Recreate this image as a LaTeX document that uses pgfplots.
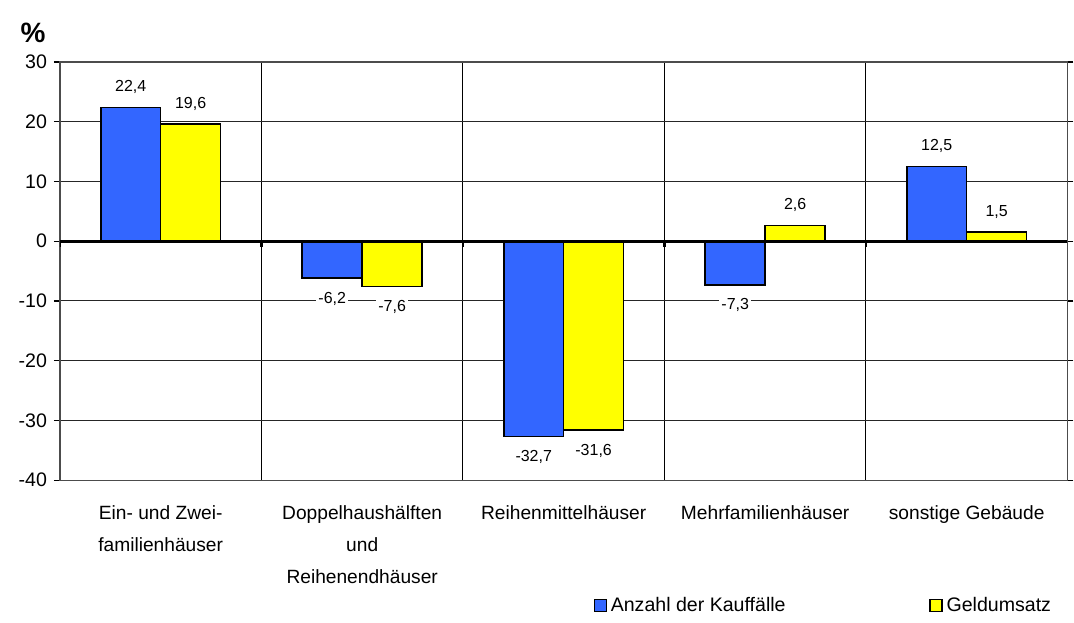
\documentclass[border=0pt]{standalone}
\usepackage{fontspec}
\setmainfont{Liberation Sans}
\usepackage{pgfplots}
\pgfplotsset{compat=1.18}
\definecolor{barblue}{HTML}{3366FF}
\definecolor{baryellow}{HTML}{FFFF00}
\begin{document}
\begin{tikzpicture}
\begin{axis}[
  scale only axis, width=504.5pt, height=209.5pt,
  xmin=-0.5, xmax=4.5, ymin=-40, ymax=30,
  ybar=0pt, bar width=30pt,
  /pgf/number format/assume math mode=true,
  xtick={0,1,2,3,4},
  xticklabels={{Ein- und Zwei-\\familienhäuser},{Doppelhaushälften\\und\\Reihenendhäuser},{Reihenmittelhäuser},{Mehrfamilienhäuser},{sonstige Gebäude}},
  xticklabel style={align=center, font=\fontsize{9.6}{16}\selectfont, yshift=-6pt},
  xtick style={draw=none},
  minor xtick={0.5,1.5,2.5,3.5},
  xminorgrids,
  minor grid style={black, line width=0.5pt},
  ytick={-40,-30,...,30},
  ymajorgrids,
  major grid style={black!85, line width=0.5pt},
  yticklabel style={font=\fontsize{9.8}{11}\selectfont},
  ytick align=outside, major tick length=3pt,
  ytick style={black, line width=0.6pt},
  axis line style={black!70, line width=0.6pt},
  nodes near coords={\pgfmathprintnumber[fixed, fixed zerofill, precision=1, use comma]{\pgfplotspointmeta}},
  nodes near coords align={vertical},
  every node near coord/.append style={font=\fontsize{8}{9}\selectfont, fill=white, inner sep=1pt, outer sep=6pt, text=black},
  legend style={at={(rel axis cs:0.994,-0.30)}, anchor=east, draw=none, fill=none,
    legend columns=2, font=\fontsize{9.8}{11}\selectfont,
    /tikz/every even column/.append style={column sep=70pt}},
  legend image code/.code={\draw[#1, line width=0.6pt] (0pt,-3pt) rectangle (6pt,3pt);},
]
\addplot[fill=barblue, draw=black, line width=0.8pt] coordinates {(0,22.4) (1,-6.2) (2,-32.7) (3,-7.3) (4,12.5)};
\addplot[fill=baryellow, draw=black, line width=0.8pt] coordinates {(0,19.6) (1,-7.6) (2,-31.6) (3,2.6) (4,1.5)};
\legend{Anzahl der Kauffälle, Geldumsatz}
\draw[black, line width=1.5pt] (axis cs:-0.5,0) -- (axis cs:4.5,0);
\draw[black, line width=1.2pt] (axis cs:-0.5,0) -- ++(0pt,-3pt);
\draw[black, line width=1.2pt] (axis cs:0.5,0) -- ++(0pt,-3pt);
\draw[black, line width=1.2pt] (axis cs:1.5,0) -- ++(0pt,-3pt);
\draw[black, line width=1.2pt] (axis cs:2.5,0) -- ++(0pt,-3pt);
\draw[black, line width=1.2pt] (axis cs:3.5,0) -- ++(0pt,-3pt);
\coordinate (pct) at (rel axis cs:-0.0268,1.069);
\coordinate (bbl) at (rel axis cs:-0.0595,-0.341);
\coordinate (btr) at (rel axis cs:1.00496,1.148);
\end{axis}
\node[font=\bfseries\fontsize{14}{14}\selectfont] at (pct) {\%};
\path (bbl) rectangle (btr);
\end{tikzpicture}
\end{document}
